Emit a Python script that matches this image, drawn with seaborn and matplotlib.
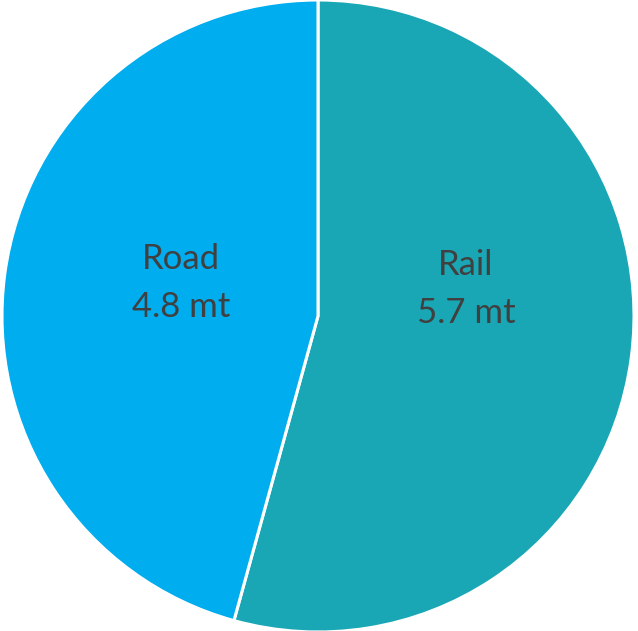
import matplotlib
matplotlib.use("Agg")
import matplotlib.pyplot as plt
import seaborn as sns

sns.set_theme(style="white")
plt.rcParams['font.family'] = ['Lato', 'DejaVu Sans']

categories = ["Rail", "Road"]
values = [5.7, 4.8]
units = "mt"
colors = ["#1AA7B5", "#00ADEF"]

W, H = 638, 631
fig = plt.figure(figsize=(W / 100, H / 100), dpi=100)
ax = fig.add_axes([2 / W, -2 / H, 632 / W, 634 / H])
wedges, _ = ax.pie(values, colors=colors, startangle=90, counterclock=False,
                   radius=1.0, wedgeprops=dict(edgecolor="white", linewidth=2.2))
ax.set_xlim(-1, 1)
ax.set_ylim(-1, 1)
ax.set_aspect("equal")
ax.axis("off")

label_pos = [(0.468, 0.085), (-0.434, 0.105)]
for cat, val, (x, y) in zip(categories, values, label_pos):
    ax.text(x, y, f"{cat}\n{val} {units}", ha="center", va="center",
            fontsize=25, color="#404040", linespacing=1.6)

fig.savefig("out.png", dpi=100)
